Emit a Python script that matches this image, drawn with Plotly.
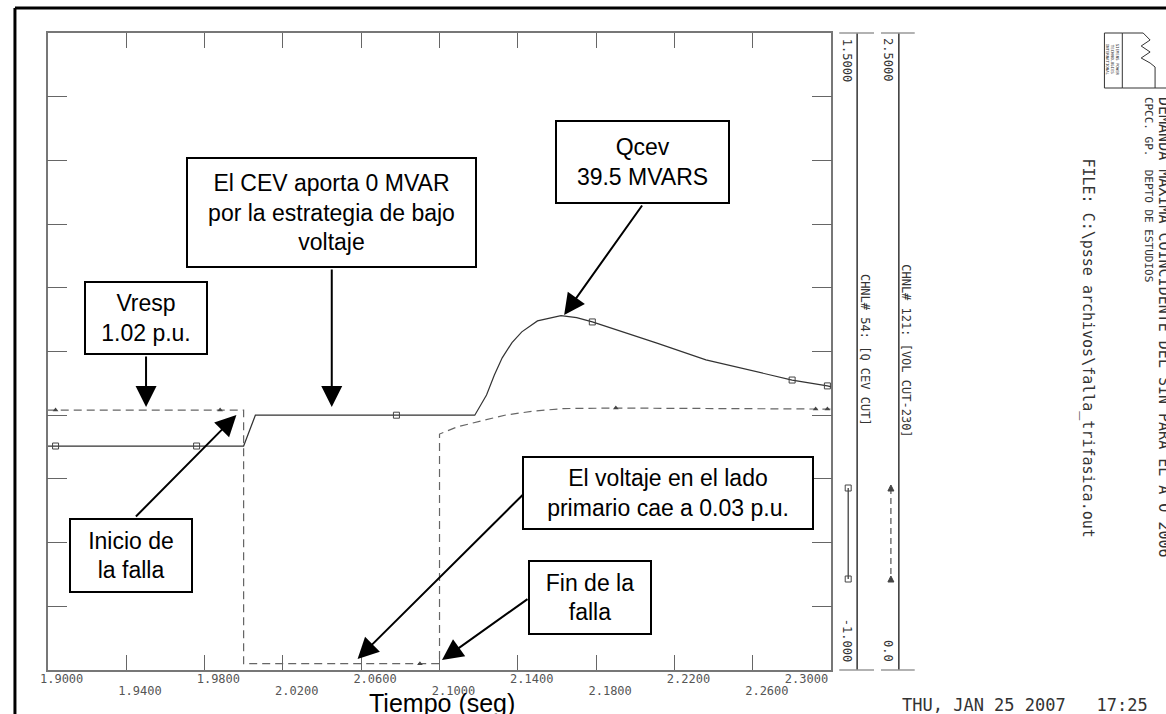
import numpy as np
import plotly.graph_objects as go

W, H = 1166, 714
# plot area in pixels
PL, PR, PT, PB = 40, 829, 33, 670

# CHNL# 54: Q CEV (solid), left scale -1.0 .. 1.5
t_q = [1.900, 2.000, 2.006, 2.118, 2.124, 2.128, 2.132, 2.137, 2.142, 2.150,
       2.162, 2.170, 2.178, 2.194, 2.211, 2.236, 2.262, 2.280, 2.298, 2.300]
q_cev = [-0.121, -0.121, 0.000, 0.000, 0.079, 0.158, 0.225, 0.285, 0.327, 0.370,
         0.391, 0.383, 0.366, 0.327, 0.283, 0.217, 0.170, 0.138, 0.115, 0.111]

# CHNL# 121: VOL CUT-230 (dashed), right scale 0.0 .. 2.5
t_v = [1.900, 2.000, 2.000, 2.100, 2.100, 2.109, 2.123, 2.134, 2.148, 2.163, 2.190, 2.300]
v_230 = [1.020, 1.020, 0.025, 0.025, 0.926, 0.954, 0.981, 1.001, 1.016, 1.026, 1.028, 1.024]

# plot symbols along the curves
t_sq = [1.904, 1.976, 2.078, 2.178, 2.280, 2.298]
t_tri = [1.904, 1.988, 2.090, 2.190, 2.292, 2.298]

x_ticks = [1.90, 1.94, 1.98, 2.02, 2.06, 2.10, 2.14, 2.18, 2.22, 2.26, 2.30]
row1 = x_ticks[0::2]
row2 = x_ticks[1::2]

mono = "DejaVu Sans Mono"
arial = "Liberation Sans, Arial"


def px(x):
    return x / W


def py(y):
    return 1 - y / H


fig = go.Figure()

fig.add_trace(go.Scatter(x=t_q, y=q_cev, mode="lines", yaxis="y",
                         line=dict(color="#333333", width=1.2)))
fig.add_trace(go.Scatter(x=t_v, y=v_230, mode="lines", yaxis="y2",
                         line=dict(color="#666666", width=1.2, dash="8px,5px")))
fig.add_trace(go.Scatter(x=t_sq, y=np.interp(t_sq, t_q, q_cev), mode="markers", yaxis="y",
                         marker=dict(symbol="square-open", size=6, color="#444444",
                                     line=dict(width=1))))
fig.add_trace(go.Scatter(x=t_tri, y=np.interp(t_tri, t_v, v_230), mode="markers", yaxis="y2",
                         marker=dict(symbol="triangle-up", size=5, color="#444444")))
# empty traces so the label axes get drawn
fig.add_trace(go.Scatter(x=[None], y=[None], xaxis="x2", yaxis="y"))
fig.add_trace(go.Scatter(x=[None], y=[None], xaxis="x3", yaxis="y"))

# label positions: sit slightly right of the tick, last one pulled inside
lab1 = [v + 0.0071 for v in row1[:-1]] + [row1[-1] - 0.0127]
lab2 = [v + 0.0071 for v in row2]

dom_x = [px(PL), px(PR)]
dom_y = [py(PB), py(PT)]
xr = [1.90, 2.30]
lab_font = dict(family=mono, size=12, color="#555555")

fig.update_layout(
    width=W, height=H,
    margin=dict(l=0, r=0, t=0, b=0),
    paper_bgcolor="white", plot_bgcolor="white",
    showlegend=False,
    xaxis=dict(domain=dom_x, range=xr, tickvals=x_ticks, ticks="inside", ticklen=15,
               tickcolor="#666666", showticklabels=False, showgrid=False, zeroline=False,
               showline=True, linecolor="#777777", linewidth=1.5, mirror="ticks"),
    xaxis2=dict(domain=dom_x, range=xr, overlaying="x", anchor="y", tickvals=lab1,
                ticktext=[f"{v:.4f}" for v in row1], ticks="", showgrid=False,
                zeroline=False, showline=False, tickfont=lab_font),
    xaxis3=dict(domain=dom_x, range=xr, overlaying="x", anchor="y", tickvals=lab2,
                ticktext=[f"{v:.4f}" for v in row2], ticks="", showgrid=False,
                zeroline=False, showline=False, tickfont=lab_font, ticklabelstandoff=12),
    yaxis=dict(domain=dom_y, range=[-1.0, 1.5], tick0=-1.0, dtick=0.25, ticks="inside",
               ticklen=20, tickcolor="#666666", showticklabels=False, showgrid=False,
               zeroline=False, showline=True, linecolor="#777777", linewidth=1.5,
               mirror="ticks"),
    yaxis2=dict(domain=dom_y, range=[0.0, 2.5], overlaying="y", showticklabels=False,
                ticks="", showgrid=False, zeroline=False, showline=False),
)

shapes = []


def line(x0, y0, x1, y1, color="black", width=1.5, dash=None):
    shapes.append(dict(type="line", xref="paper", yref="paper",
                       x0=px(x0), y0=py(y0), x1=px(x1), y1=py(y1),
                       line=dict(color=color, width=width, dash=dash)))


# outer frame
line(7, 8, 1166, 8, width=3)
line(7, 8, 7, 714, width=3)

# channel scale strips
for xs, x0, x1 in [(855, 837, 872), (897, 879, 913)]:
    line(xs, PT, xs, PB, color="#333333", width=1.5)
    line(x0, PT, x1, PT, color="#999999", width=1.5)
    line(x0, PB, x1, PB, color="#999999", width=1.5)

# channel legend samples
line(846, 488, 846, 579, color="#333333", width=1.2)
line(889, 488, 889, 579, color="#555555", width=1.2, dash="6px,4px")
for yy in (488, 579):
    shapes.append(dict(type="rect", xref="paper", yref="paper",
                       x0=px(843), x1=px(849), y0=py(yy - 3), y1=py(yy + 3),
                       line=dict(color="#444444", width=1)))
    shapes.append(dict(type="path", xref="paper", yref="paper",
                       path=f"M{px(886)},{py(yy + 3)} L{px(892)},{py(yy + 3)} L{px(889)},{py(yy - 3)} Z",
                       fillcolor="#444444", line=dict(color="#444444", width=1)))

# logo
shapes.append(dict(type="rect", xref="paper", yref="paper",
                   x0=px(1104), x1=px(1122), y0=py(88), y1=py(33),
                   line=dict(color="#333333", width=1)))
wave = [(1122, 33), (1143, 33), (1150, 40), (1141, 46), (1150, 52), (1141, 58),
        (1150, 63), (1155, 67), (1155, 88)]
shapes.append(dict(type="path", xref="paper", yref="paper",
                   path="M" + " L".join(f"{px(a)},{py(b)}" for a, b in wave),
                   line=dict(color="#333333", width=1)))
line(1122, 88, 1166, 88, color="#333333", width=1)

fig.update_layout(shapes=shapes)

ann = []


def rtext(text, x, y, size, angle=90, color="#333333", family=mono):
    ann.append(dict(text=text, xref="paper", yref="paper", x=px(x), y=py(y),
                    xanchor="center", yanchor="middle", showarrow=False, textangle=angle,
                    font=dict(family=family, size=size, color=color)))


rtext("1.5000", 845, 60, 12)
rtext("-1.000", 845, 640, 12)
rtext("2.5000", 886, 60, 12)
rtext("0.0", 886, 651, 12)
rtext("CHNL# 54: [Q CEV CUT]", 863, 350, 12)
rtext("CHNL# 121: [VOL CUT-230]", 904, 351, 12)
rtext("FILE: C:\\psse archivos\\falla_trifasica.out", 1087, 348, 15)
rtext("CPCC. GP.  DEPTO DE ESTUDIOS", 1148, 189, 11)
rtext("DEMANDA MAXIMA COINCIDENTE DEL SIN PARA EL A O 2006", 1164, 327, 15)
rtext("SIEMENS POWER<br>TECHNOLOGIES<br>INTERNATIONAL", 1113, 60, 4)
rtext("THU, JAN 25 2007   17:25", 1024, 705, 17, angle=0)
rtext("Tiempo (seg)", 437, 703, 25, angle=0, color="black", family=arial)

# annotation boxes: text, centre px, size px
boxes = [
    ("Vresp<br>1.02 p.u.", 139, 318, 124, 74),
    ("El CEV aporta 0 MVAR<br>por la estrategia de bajo<br>voltaje", 325.5, 212.5, 291, 111),
    ("Qcev<br>39.5 MVARS", 638.5, 162, 175, 84),
    ("Inicio de<br>la falla", 124, 555.5, 124, 75),
    ("El voltaje en el lado<br>primario cae a 0.03 p.u.", 665, 493, 292, 74),
    ("Fin de la<br>falla", 586, 597.5, 124, 75),
]
for text, cx, cy, bw, bh in boxes:
    ann.append(dict(text=text, xref="paper", yref="paper", x=px(cx), y=py(cy),
                    xanchor="center", yanchor="middle", showarrow=False,
                    width=bw - 4, height=bh - 4, align="center", valign="middle",
                    bgcolor="white", bordercolor="black", borderwidth=2, borderpad=0,
                    font=dict(family=arial, size=23, color="black")))

# arrows: start px -> tip px
arrows = [
    ((139, 355), (139, 407)),
    ((326, 268), (326, 407)),
    ((639, 204), (560, 315)),
    ((128, 518), (230, 415)),
    ((519, 493), (352, 659)),
    ((524, 598), (437, 660)),
]
for (sx, sy), (tx, ty) in arrows:
    ann.append(dict(text="", xref="paper", yref="paper", x=px(tx), y=py(ty),
                    ax=sx - tx, ay=sy - ty, axref="pixel", ayref="pixel",
                    showarrow=True, arrowhead=2, arrowsize=2.1, arrowwidth=2,
                    arrowcolor="black", standoff=0))

fig.update_layout(annotations=ann)

fig.write_html("out.html", config={"displayModeBar": False},
               post_script="document.body.style.margin='0px';")
